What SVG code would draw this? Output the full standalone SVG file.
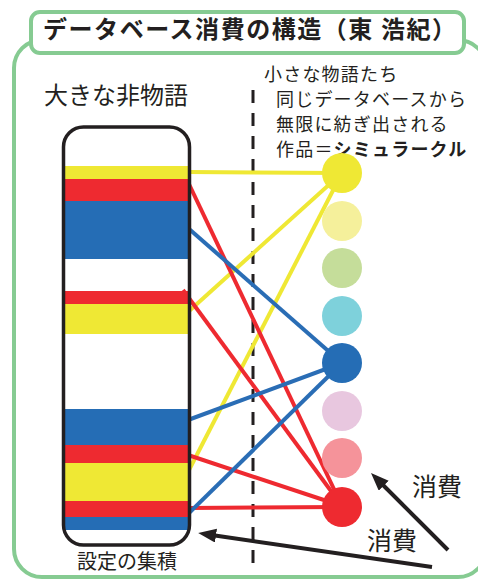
<svg xmlns="http://www.w3.org/2000/svg" width="478" height="579" viewBox="0 0 478 579">
<style>
.frame{fill:none;stroke:#86cb92;stroke-width:4}
.t{font-family:"Noto Sans CJK JP","Noto Sans",sans-serif;fill:#231f20}
.s{font-size:18px;letter-spacing:1.2px}
.ly{stroke:#efe834;stroke-width:4;fill:none}
.lr{stroke:#ee2a30;stroke-width:4;fill:none}
.lb{stroke:#2a6db5;stroke-width:4;fill:none}
.arr{stroke:#231f20;stroke-width:4;fill:none;marker-end:url(#ah)}
</style>
<defs>
<marker id="ah" markerUnits="userSpaceOnUse" markerWidth="20" markerHeight="16" refX="1" refY="7" orient="auto">
<path d="M0,0 L18,7 L0,14 z" fill="#231f20"/>
</marker>
<clipPath id="boxclip"><rect x="63.5" y="127" width="126" height="418" rx="20"/></clipPath>
</defs>
<rect width="478" height="579" fill="#fff"/>
<rect class="frame" x="14" y="40" width="472" height="537" rx="28"/>
<g id="title">
<rect x="31" y="12" width="433" height="41" rx="9" fill="#fff" stroke="#86cb92" stroke-width="4"/>
<text class="t" x="43" y="38" font-size="24" font-weight="bold" textLength="413" lengthAdjust="spacing">データベース消費の構造（東 浩紀）</text>
</g>
<g id="labels">
<text class="t" x="44" y="104" font-size="24">大きな非物語</text>
<text class="t s" x="264" y="81">小さな物語たち</text>
<text class="t s" x="276" y="106">同じデータベースから</text>
<text class="t s" x="276" y="131">無限に紡ぎ出される</text>
<text class="t s" x="276" y="156">作品＝<tspan font-weight="bold">シミュラークル</tspan></text>
<text class="t" x="77" y="569" font-size="20">設定の集積</text>
<text class="t" x="412" y="496" font-size="25">消費</text>
<text class="t" x="367" y="550" font-size="25">消費</text>
</g>
<line x1="253" y1="90" x2="253" y2="573" stroke="#231f20" stroke-width="3" stroke-dasharray="13 10"/>
<g id="connectors">
<line class="ly" x1="188" y1="172" x2="342" y2="173"/>
<line class="ly" x1="188" y1="312" x2="342" y2="173"/>
<line class="ly" x1="188" y1="472" x2="342" y2="173"/>
<line class="lr" x1="188" y1="182" x2="342" y2="506"/>
<line class="lr" x1="183" y1="290" x2="342" y2="506"/>
<line class="lr" x1="188" y1="455" x2="342" y2="506"/>
<line class="lr" x1="188" y1="508" x2="342" y2="507"/>
<line class="lb" x1="188" y1="228" x2="342" y2="363"/>
<line class="lb" x1="188" y1="420" x2="342" y2="363"/>
<line class="lb" x1="188" y1="514" x2="342" y2="363"/>
<line class="arr" x1="448" y1="550" x2="383" y2="485"/>
<line class="arr" x1="432" y1="567" x2="215" y2="535.5"/>
</g>
<g id="database">
<g clip-path="url(#boxclip)">
<rect x="63" y="166" width="127" height="13" fill="#efe834"/>
<rect x="63" y="179" width="127" height="22" fill="#ee2a30"/>
<rect x="63" y="201" width="127" height="58" fill="#256db5"/>
<rect x="63" y="291" width="127" height="13" fill="#ee2a30"/>
<rect x="63" y="304" width="127" height="30" fill="#efe834"/>
<rect x="63" y="409" width="127" height="36" fill="#256db5"/>
<rect x="63" y="445" width="127" height="18" fill="#ee2a30"/>
<rect x="63" y="463" width="127" height="38" fill="#efe834"/>
<rect x="63" y="501" width="127" height="16" fill="#ee2a30"/>
<rect x="63" y="517" width="127" height="13" fill="#256db5"/>
</g>
<rect x="63.5" y="127" width="126" height="418" rx="20" fill="none" stroke="#231f20" stroke-width="3.5"/>
</g>
<g id="works">
<circle cx="342" cy="173" r="20" fill="#efe834"/>
<circle cx="342" cy="221" r="20" fill="#f5f09b"/>
<circle cx="342" cy="268" r="20" fill="#c5dd9a"/>
<circle cx="342" cy="316" r="20" fill="#7ed1db"/>
<circle cx="342" cy="363" r="20" fill="#256db5"/>
<circle cx="342" cy="411" r="20" fill="#e8c7df"/>
<circle cx="342" cy="458" r="20" fill="#f5939a"/>
<circle cx="342" cy="507" r="20" fill="#ee2a30"/>
</g>
</svg>
